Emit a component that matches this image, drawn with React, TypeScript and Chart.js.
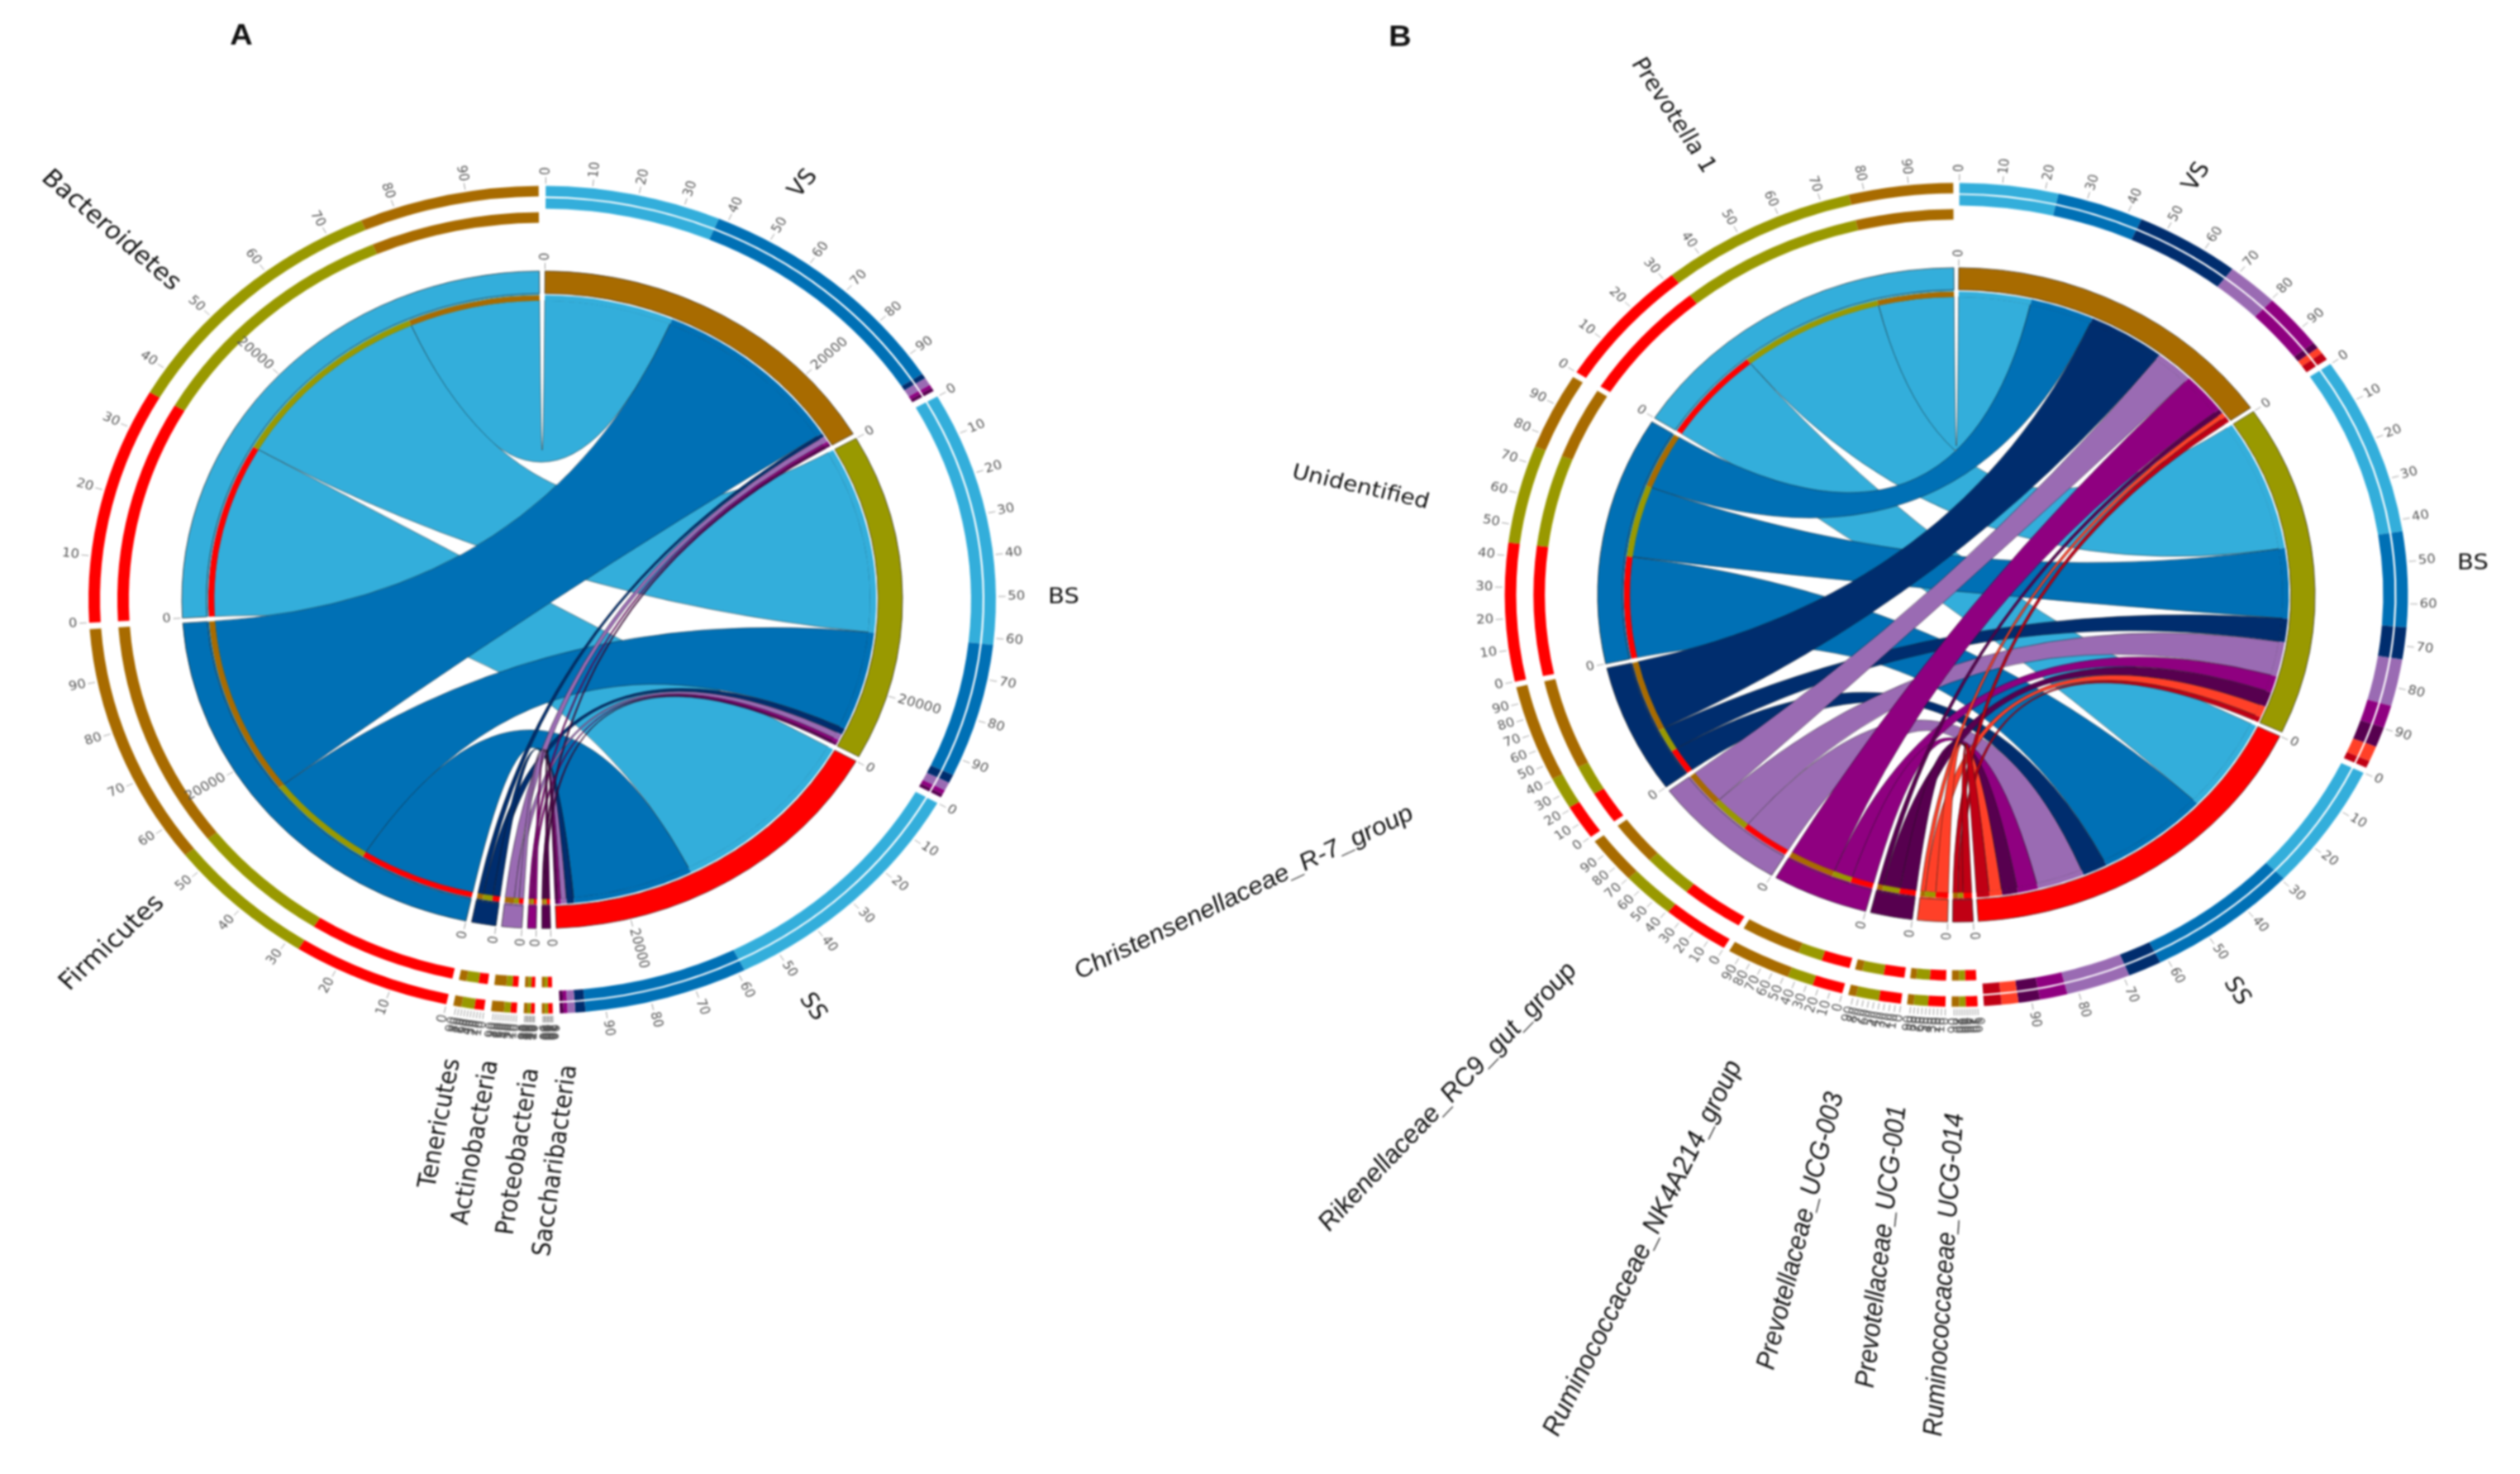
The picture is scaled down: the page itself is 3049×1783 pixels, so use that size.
import React, { useEffect, useRef } from "react";
import { Chart, registerables } from "chart.js";

Chart.register(...registerables);

// ---------- colours ----------
const BROWN = "#A86B00";
const OLIVE = "#999900";
const RED = "#FF0000";
const SKY = "#33AEDB";
const BLUE = "#0070B5";
const NAVY = "#002D6E";
const PURPLE = "#9A6BB3";
const MAGENTA = "#8F0080";
const PLUM = "#57004F";
const ORANGE = "#FF4028";
const CRIMSON = "#C00014";

// ---------- data (estimated read counts) ----------
const sourceNames = ["VS", "BS", "SS"];
const sourceColors = [BROWN, OLIVE, RED];

const phylumNames = ["Bacteroidetes", "Firmicutes", "Tenericutes", "Actinobacteria", "Proteobacteria", "Saccharibacteria"];
const phylumColors = [SKY, BLUE, NAVY, PURPLE, MAGENTA, PLUM];
// width of each ribbon where it leaves the sample sector
const phylumVS = [9690, 14650, 300, 470, 210, 210];
const phylumBS = [15370, 8110, 510, 510, 260, 210];
const phylumSS = [14700, 9050, 555, 427, 210, 210];
// width of the same ribbon where it lands on the taxon sector
const phylumEndVS = [9950, 14650, 440, 700, 190, 170];
const phylumEndBS = [15670, 8370, 720, 360, 190, 180];
const phylumEndSS = [14350, 8750, 540, 340, 220, 250];
const phylumGap = 385;
const phylumAxisTicks = [20000];

const genusNames = [
  "Prevotella 1", "Unidentified", "Christensenellaceae_R-7_group", "Rikenellaceae_RC9_gut_group",
  "Ruminococcaceae_NK4A214_group", "Prevotellaceae_UCG-003", "Prevotellaceae_UCG-001", "Ruminococcaceae_UCG-014",
];
const genusColors = [SKY, BLUE, NAVY, PURPLE, MAGENTA, PLUM, ORANGE, CRIMSON];
const genusVS = [5510, 4830, 5850, 2900, 3420, 385, 385, 470];
const genusBS = [10930, 5810, 1960, 2860, 1370, 1240, 940, 430];
const genusSS = [7770, 8520, 1880, 3590, 1540, 1200, 940, 980];
const genusEndVS = [5810, 4700, 5890, 2900, 3590, 430, 360, 420];
const genusEndBS = [10970, 5980, 1960, 2990, 1450, 1280, 800, 360];
const genusEndSS = [7900, 8450, 2140, 3760, 1710, 1240, 960, 660];
const genusGap = 340;
const genusAxisTicks: number[] = [];

const percentTicks = [0, 10, 20, 30, 40, 50, 60, 70, 80, 90];

// ---------- text placed on the page ----------
type Lab = { t: string; x: number; y: number; r: number; s: number; f: string };
const DV = "'DejaVu Sans'";
const LI = "italic 400 SIZEpx 'Liberation Sans'";
const labelsA: Lab[] = [
  { t: "A", x: 292, y: 44, r: 0, s: 38, f: "bold" },
  { t: "Bacteroidetes", x: 134, y: 279, r: 43, s: 31.5, f: DV },
  { t: "VS", x: 972, y: 222, r: -52, s: 29, f: DV },
  { t: "BS", x: 1287, y: 723, r: 0, s: 29, f: DV },
  { t: "SS", x: 983, y: 1218, r: 58, s: 29, f: DV },
  { t: "Firmicutes", x: 136, y: 1141, r: -45, s: 32, f: DV },
  { t: "Tenericutes", x: 533, y: 1359, r: -80, s: 30.5, f: DV },
  { t: "Actinobacteria", x: 576, y: 1382, r: -80.5, s: 30.5, f: DV },
  { t: "Proteobacteria", x: 628, y: 1393, r: -82, s: 30.5, f: DV },
  { t: "Saccharibacteria", x: 673, y: 1404, r: -82.6, s: 30.5, f: DV },
];
const labelsB: Lab[] = [
  { t: "B", x: 1694, y: 46, r: 0, s: 38, f: "bold" },
  { t: "Prevotella 1", x: 2024, y: 140, r: 59, s: 29, f: DV },
  { t: "VS", x: 2658, y: 214, r: -60, s: 29, f: DV },
  { t: "BS", x: 2992, y: 682, r: 0, s: 29, f: DV },
  { t: "SS", x: 2706, y: 1199, r: 60, s: 29, f: DV },
  { t: "Unidentified", x: 1646, y: 590, r: 14, s: 28, f: DV },
  { t: "Christensenellaceae_R-7_group", x: 1505, y: 1080, r: -27.8, s: 32, f: LI },
  { t: "Rikenellaceae_RC9_gut_group", x: 1752, y: 1327, r: -49, s: 33, f: LI },
  { t: "Ruminococcaceae_NK4A214_group", x: 1988, y: 1510, r: -65.7, s: 33.5, f: LI },
  { t: "Prevotellaceae_UCG-003", x: 2179, y: 1489, r: -77, s: 33, f: LI },
  { t: "Prevotellaceae_UCG-001", x: 2277, y: 1508, r: -84, s: 33, f: LI },
  { t: "Ruminococcaceae_UCG-014", x: 2353, y: 1542, r: -86.5, s: 33, f: LI },
];

// ---------- layout ----------
const W = 3049;
const H = 1783;
const SQUEEZE = 0.912;
const CH = Math.round(H / SQUEEZE);
const NONE = "rgba(0,0,0,0)";
// radial layers, as fractions of the sector ring's outer radius
const R_OUT = 1.259;
const R_IN = 0.91;

type Cfg = {
  flows: number[][];
  ends: number[][];
  targets: string[];
  targetColors: string[];
  gap: number;
  axisTicks: number[];
  labels: Lab[];
  cx: number;
  cy: number;
  r0: number;
};

function makeChart(canvas: HTMLCanvasElement, cfg: Cfg) {
  const { flows, ends, targets, targetColors, gap } = cfg;
  type Seg = { v: number; color: string; s: number; t: number };
  const sectors: { name: string; color: string; isSource: boolean; segs: Seg[] }[] = [];
  sourceNames.forEach((name, s) => {
    sectors.push({
      name, color: sourceColors[s], isSource: true,
      segs: flows[s].map((v, t) => ({ v, color: targetColors[t], s, t })),
    });
  });
  for (let t = targets.length - 1; t >= 0; t--) {
    sectors.push({
      name: targets[t], color: targetColors[t], isSource: false,
      segs: [2, 1, 0].map((s) => ({ v: ends[s][t], color: sourceColors[s], s, t })),
    });
  }
  const total = sectors.reduce((a, x) => a + x.segs.reduce((b, y) => b + y.v, 0) + gap, 0);

  // flat segment lists shared by the rings
  const segData: number[] = [];
  const segInfo: { sec: number; seg: Seg | null }[] = [];
  const sectorData: number[] = [];
  const sectorCols: string[] = [];
  const sectorBorder: string[] = [];
  const sectorBW: number[] = [];
  sectors.forEach((sec, i) => {
    sec.segs.forEach((seg) => {
      segData.push(seg.v);
      segInfo.push({ sec: i, seg });
    });
    segData.push(gap);
    segInfo.push({ sec: i, seg: null });
    sectorData.push(sec.segs.reduce((b, y) => b + y.v, 0), gap);
    sectorCols.push(sec.color, NONE);
    sectorBorder.push("rgba(40,40,40,0.75)", NONE);
    sectorBW.push(1, 0);
  });
  const ringCols = (pick: (sec: { isSource: boolean }) => boolean) =>
    segInfo.map((x) => (x.seg && pick(sectors[x.sec]) ? x.seg.color : NONE));
  const spacer = (w: number) => ({ data: [1], weight: w, backgroundColor: [NONE], borderWidth: 0 });
  const ring = (w: number, cols: string[]) => ({ data: segData, weight: w, backgroundColor: cols, borderWidth: 0 });

  const datasets: any[] = [
    ring(0.032, ringCols(() => true)),
    spacer(0.005),
    ring(0.032, ringCols((s) => s.isSource)),
    spacer(0.011),
    ring(0.032, ringCols((s) => !s.isSource)),
    spacer(0.147),
    { data: sectorData, weight: 0.068, backgroundColor: sectorCols, borderColor: sectorBorder, borderWidth: sectorBW },
    // the taxon sectors run on a little further inwards than the sample sectors
    {
      data: segData, weight: 0.005, borderWidth: 0,
      backgroundColor: segInfo.map((x) => (x.seg && !sectors[x.sec].isSource ? sectors[x.sec].color : NONE)),
    },
    ring(0.017, ringCols(() => true)),
  ];
  const SECTOR_DS = 6;
  const STRIP_DS = 8;

  const chordPlugin = {
    id: "chords",
    beforeDatasetsDraw(chart: any) {
      const arcs = chart.getDatasetMeta(STRIP_DS).data;
      const ctx = chart.ctx;
      const find = (wantSource: boolean, s: number, t: number) => {
        const k = segInfo.findIndex((x) => x.seg && sectors[x.sec].isSource === wantSource && x.seg.s === s && x.seg.t === t);
        return arcs[k];
      };
      ctx.save();
      ctx.lineWidth = 1;
      ctx.strokeStyle = "rgba(20,20,20,0.5)";
      targets.forEach((_, t) => {
        sourceNames.forEach((__, s) => {
          const a = find(true, s, t);
          const b = find(false, s, t);
          const { x, y, innerRadius: r } = a;
          ctx.beginPath();
          ctx.arc(x, y, r + 0.5, a.startAngle, a.endAngle);
          ctx.quadraticCurveTo(x, y, x + (r + 0.5) * Math.cos(b.startAngle), y + (r + 0.5) * Math.sin(b.startAngle));
          ctx.arc(x, y, r + 0.5, b.startAngle, b.endAngle);
          ctx.quadraticCurveTo(x, y, x + (r + 0.5) * Math.cos(a.startAngle), y + (r + 0.5) * Math.sin(a.startAngle));
          ctx.closePath();
          ctx.fillStyle = targetColors[t];
          ctx.fill();
          ctx.stroke();
        });
      });
      ctx.restore();
    },
  };

  const tickPlugin = {
    id: "ticks",
    afterDatasetsDraw(chart: any) {
      const arcs = chart.getDatasetMeta(SECTOR_DS).data;
      const ctx = chart.ctx;
      const unit = arcs[0].outerRadius;
      const drawTick = (ang: number, r1: number, r2: number, r3: number, label: string, size: number, fg: string) => {
        const { x, y } = arcs[0];
        const c = Math.cos(ang);
        const s = Math.sin(ang);
        ctx.strokeStyle = "#9a9a9a";
        ctx.lineWidth = 1;
        ctx.beginPath();
        ctx.moveTo(x + c * r1 * unit, y + s * r1 * unit);
        ctx.lineTo(x + c * r2 * unit, y + s * r2 * unit);
        ctx.stroke();
        ctx.save();
        ctx.translate(x + c * r3 * unit, y + s * r3 * unit);
        const right = c >= -1e-6;
        ctx.rotate(right ? ang : ang + Math.PI);
        ctx.textAlign = right ? "left" : "right";
        ctx.textBaseline = "middle";
        ctx.font = `${size}px 'DejaVu Sans'`;
        ctx.fillStyle = fg;
        ctx.fillText(label, 0, 0);
        ctx.restore();
      };
      sectors.forEach((sec, i) => {
        const a = arcs[i * 2];
        const span = a.endAngle - a.startAngle;
        const tot = sec.segs.reduce((b, y) => b + y.v, 0);
        drawTick(a.startAngle, 1.005, 1.025, 1.032, "0", 16, "#555");
        cfg.axisTicks.forEach((tv) => {
          if (tv < tot) drawTick(a.startAngle + (span * tv) / tot, 1.005, 1.025, 1.032, String(tv), 17, "#555");
        });
        percentTicks.forEach((p) => {
          drawTick(a.startAngle + (span * p) / 100, 1.266, 1.286, 1.292, String(p), 16.5, "#555");
        });
      });
    },
    afterDraw(chart: any) {
      const ctx = chart.ctx;
      cfg.labels.forEach((l) => {
        ctx.save();
        ctx.translate(l.x, l.y / SQUEEZE);
        ctx.rotate((l.r * Math.PI) / 180);
        ctx.textAlign = "center";
        ctx.textBaseline = "middle";
        ctx.fillStyle = "#111";
        ctx.font =
          l.f === "bold"
            ? `bold ${l.s}px 'Liberation Sans'`
            : l.f === DV
            ? `${l.s}px ${DV}`
            : l.f.replace("SIZE", String(l.s));
        ctx.fillText(l.t, 0, 0);
        ctx.restore();
      });
    },
  };

  const cy = cfg.cy / SQUEEZE;
  const padX = W - 2 * cfg.cx;
  return new Chart(canvas, {
    type: "doughnut",
    data: { labels: segData.map((_, i) => String(i)), datasets },
    options: {
      animation: false,
      responsive: false,
      devicePixelRatio: 1,
      events: [],
      rotation: ((gap / total) * 360) / 2,
      radius: R_OUT * cfg.r0,
      cutout: `${(R_IN / R_OUT) * 100}%`,
      layout: {
        padding: {
          left: padX < 0 ? -padX : 0,
          right: padX > 0 ? padX : 0,
          top: 0,
          bottom: CH - 2 * cy,
        },
      },
      plugins: { legend: { display: false }, tooltip: { enabled: false }, title: { display: false } },
    } as any,
    plugins: [chordPlugin, tickPlugin] as any,
  });
}

export default function App() {
  const refA = useRef<HTMLCanvasElement>(null);
  const refB = useRef<HTMLCanvasElement>(null);
  useEffect(() => {
    document.body.style.margin = "0";
    const a = makeChart(refA.current!, {
      flows: [phylumVS, phylumBS, phylumSS],
      ends: [phylumEndVS, phylumEndBS, phylumEndSS],
      targets: phylumNames,
      targetColors: phylumColors,
      gap: phylumGap,
      axisTicks: phylumAxisTicks,
      labels: labelsA,
      cx: 656,
      cy: 725.5,
      r0: 436,
    });
    const b = makeChart(refB.current!, {
      flows: [genusVS, genusBS, genusSS],
      ends: [genusEndVS, genusEndBS, genusEndSS],
      targets: genusNames,
      targetColors: genusColors,
      gap: genusGap,
      axisTicks: genusAxisTicks,
      labels: labelsB,
      cx: 2367,
      cy: 719.5,
      r0: 434,
    });
    return () => {
      a.destroy();
      b.destroy();
    };
  }, []);
  const cs: React.CSSProperties = {
    position: "absolute",
    left: 0,
    top: 0,
    transformOrigin: "0 0",
    transform: `scaleY(${SQUEEZE})`,
  };
  return (
    <div style={{ position: "absolute", left: 0, top: 0, width: W, height: H, overflow: "hidden", background: "#fff", filter: "blur(0.9px)" }}>
      <canvas ref={refA} width={W} height={CH} style={cs} />
      <canvas ref={refB} width={W} height={CH} style={cs} />
    </div>
  );
}
